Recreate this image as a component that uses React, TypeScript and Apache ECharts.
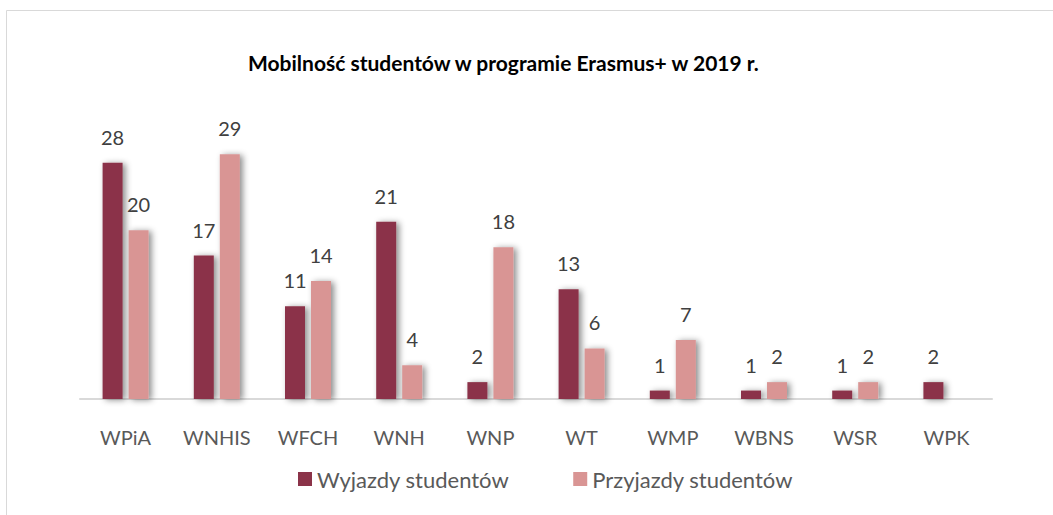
import React, { useEffect, useRef } from "react";
import * as echarts from "echarts";

const categories = ["WPiA", "WNHIS", "WFCH", "WNH", "WNP", "WT", "WMP", "WBNS", "WSR", "WPK"];
const wyjazdy = [28, 17, 11, 21, 2, 13, 1, 1, 1, 2];
const przyjazdy: (number | null)[] = [20, 29, 14, 4, 18, 6, 7, 2, 2, null];
const seriesNames = ["Wyjazdy studentów", "Przyjazdy studentów"];
const titleText = "Mobilność studentów w programie Erasmus+ w 2019 r.";

const FONT = "Lato, 'Open Sans', sans-serif";
const shadow = { shadowBlur: 6, shadowColor: "rgba(0,0,0,0.45)", shadowOffsetX: 3, shadowOffsetY: 1 };

export default function App() {
  const ref = useRef<HTMLDivElement>(null);
  useEffect(() => {
    const chart = echarts.init(ref.current!, null, { renderer: "svg" });
    const label = { show: true, position: "top", distance: 16, fontSize: 20, color: "#404040", fontFamily: FONT };
    chart.setOption({
      animation: false,
      backgroundColor: "#fff",
      title: {
        text: titleText,
        left: 243,
        top: 47,
        textStyle: { fontSize: 21, fontWeight: "bold", color: "#000", fontFamily: FONT },
      },
      graphic: [
        { type: "rect", shape: { x: 6.5, y: 10.5, width: 1100, height: 600 }, style: { fill: "none", stroke: "#d9d9d9", lineWidth: 1 }, silent: true },
      ],
      legend: {
        top: 463,
        left: 293,
        itemWidth: 14,
        itemHeight: 14,
        itemGap: 64,
        icon: "rect",
        textStyle: { fontSize: 22, color: "#595959", fontFamily: FONT },
        data: seriesNames,
      },
      grid: { left: 80, right: 61, top: 129, bottom: 116 },
      xAxis: {
        type: "category",
        data: categories,
        axisTick: { show: false },
        axisLine: { lineStyle: { color: "#d9d9d9", width: 2 } },
        axisLabel: { fontSize: 20, color: "#595959", margin: 28, fontFamily: FONT },
      },
      yAxis: { type: "value", min: 0, max: 32, show: false, splitLine: { show: false } },
      series: [
        { name: seriesNames[0], type: "bar", data: wyjazdy, barWidth: 20, barGap: "30%", itemStyle: { color: "#8b3349", ...shadow }, label },
        { name: seriesNames[1], type: "bar", data: przyjazdy, barWidth: 20, itemStyle: { color: "#d99594", ...shadow }, label },
      ],
    });
    return () => chart.dispose();
  }, []);
  return <div ref={ref} style={{ position: "fixed", left: 0, top: 0, width: 1053, height: 515 }} />;
}
